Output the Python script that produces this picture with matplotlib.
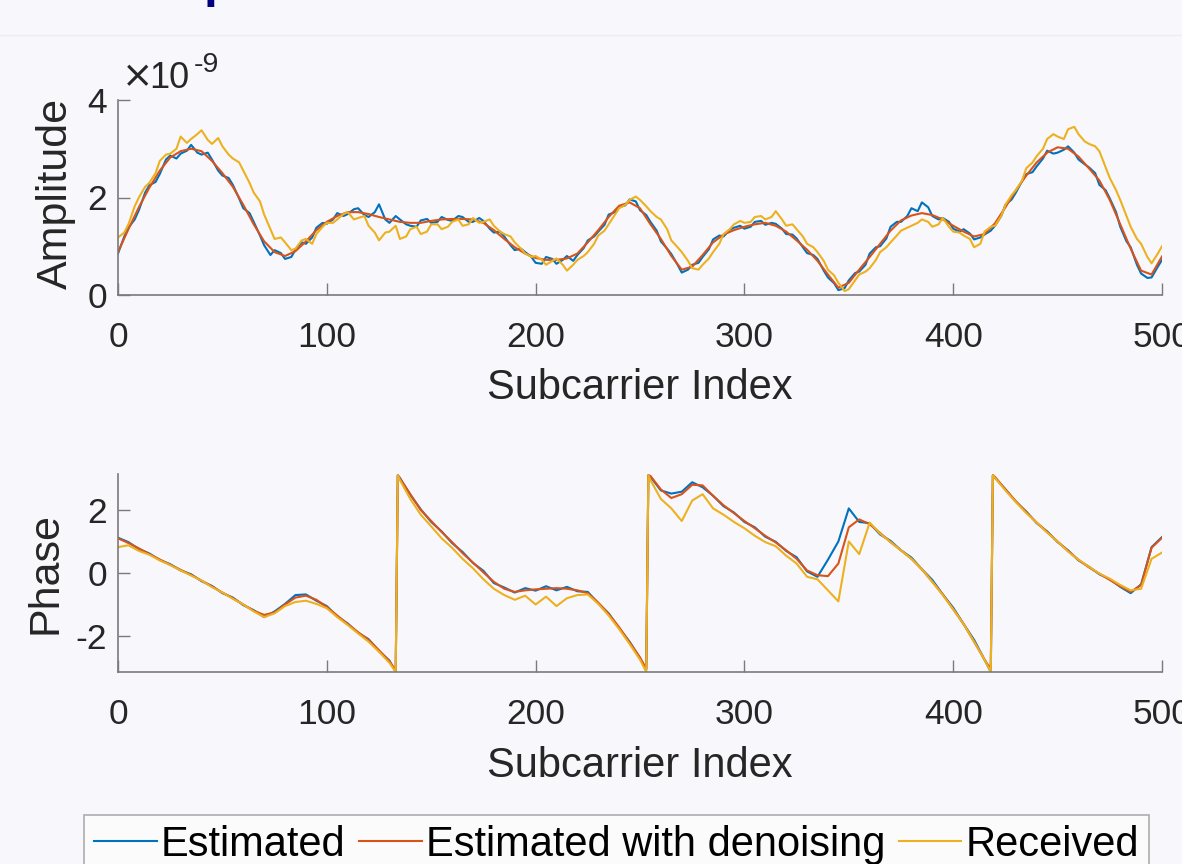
import matplotlib
matplotlib.use("Agg")
import matplotlib.pyplot as plt
from matplotlib.lines import Line2D

plt.rcParams['font.family'] = ['Liberation Sans', 'DejaVu Sans']
plt.rcParams['axes.unicode_minus'] = False

# ---------------- data ----------------
amp_x = list(range(0, 501, 5))
amp_x_mid = list(range(3, 500, 5))
# amplitude values in units of 1e-9
amp_estimated = [
    0.85, 1.38, 1.74, 2.25, 2.48, 2.86, 2.90, 3.08, 2.88, 2.78,
    2.45, 2.26, 1.78, 1.50, 1.02, 0.92, 0.74, 0.93, 1.05, 1.38,
    1.46, 1.68, 1.66, 1.78, 1.60, 1.86, 1.48, 1.55, 1.42, 1.53,
    1.48, 1.60, 1.52, 1.60, 1.50, 1.52, 1.28, 1.20, 0.92, 0.88,
    0.66, 0.78, 0.64, 0.80, 0.82, 1.12, 1.30, 1.65, 1.80, 1.96,
    1.74, 1.50, 1.10, 0.84, 0.46, 0.62, 0.78, 1.14, 1.20, 1.38,
    1.36, 1.50, 1.44, 1.46, 1.25, 1.16, 0.86, 0.74, 0.36, 0.10,
    0.30, 0.48, 0.85, 1.00, 1.40, 1.50, 1.78, 1.90, 1.62, 1.58,
    1.36, 1.35, 1.14, 1.24, 1.42, 1.85, 2.10, 2.48, 2.64, 2.96,
    2.92, 3.05, 2.78, 2.62, 2.26, 1.98, 1.40, 0.98, 0.44, 0.36,
    0.72]
amp_estimated_mid = [
    1.20, 1.55, 2.10, 2.32, 2.78, 2.80, 2.96, 2.92, 2.92, 2.55,
    2.40, 1.98, 1.68, 1.22, 0.82, 0.86, 0.78, 1.08, 1.18, 1.48,
    1.55, 1.62, 1.76, 1.64, 1.70, 1.55, 1.62, 1.45, 1.40, 1.56,
    1.50, 1.54, 1.62, 1.50, 1.58, 1.36, 1.30, 1.02, 0.95, 0.78,
    0.64, 0.74, 0.72, 0.70, 0.96, 1.20, 1.44, 1.70, 1.84, 1.92,
    1.64, 1.32, 0.95, 0.62, 0.52, 0.66, 0.94, 1.22, 1.34, 1.42,
    1.40, 1.52, 1.48, 1.36, 1.24, 0.98, 0.82, 0.50, 0.24, 0.14,
    0.45, 0.62, 0.98, 1.16, 1.50, 1.62, 1.72, 1.80, 1.55, 1.50,
    1.30, 1.26, 1.18, 1.32, 1.62, 1.96, 2.34, 2.52, 2.80, 2.90,
    2.98, 2.92, 2.68, 2.50, 2.15, 1.70, 1.10, 0.62, 0.35, 0.58]
amp_denoised = [
    0.88, 1.35, 1.80, 2.20, 2.55, 2.82, 2.95, 3.00, 2.95, 2.75,
    2.50, 2.22, 1.85, 1.45, 1.10, 0.88, 0.80, 0.90, 1.10, 1.33,
    1.50, 1.62, 1.70, 1.70, 1.66, 1.60, 1.55, 1.50, 1.48, 1.48,
    1.52, 1.55, 1.56, 1.56, 1.55, 1.48, 1.33, 1.15, 0.98, 0.85,
    0.76, 0.72, 0.72, 0.75, 0.85, 1.08, 1.33, 1.60, 1.83, 1.90,
    1.78, 1.45, 1.15, 0.80, 0.52, 0.58, 0.82, 1.08, 1.24, 1.33,
    1.40, 1.45, 1.48, 1.42, 1.30, 1.12, 0.93, 0.70, 0.42, 0.15,
    0.25, 0.52, 0.78, 1.05, 1.32, 1.53, 1.63, 1.68, 1.64, 1.55,
    1.42, 1.30, 1.20, 1.25, 1.47, 1.80, 2.15, 2.45, 2.72, 2.92,
    3.03, 3.00, 2.84, 2.60, 2.35, 1.95, 1.45, 0.95, 0.50, 0.42,
    0.79]
amp_received = [
    1.18, 1.45, 2.00, 2.30, 2.75, 2.90, 3.25, 3.20, 3.38, 3.10,
    3.05, 2.80, 2.55, 2.10, 1.65, 1.15, 1.08, 0.95, 1.15, 1.25,
    1.48, 1.55, 1.70, 1.58, 1.42, 1.12, 1.30, 1.15, 1.35, 1.25,
    1.45, 1.35, 1.50, 1.42, 1.58, 1.50, 1.42, 1.25, 1.08, 0.85,
    0.80, 0.62, 0.75, 0.50, 0.72, 0.88, 1.22, 1.45, 1.78, 1.95,
    1.95, 1.72, 1.55, 1.12, 0.88, 0.55, 0.62, 0.88, 1.25, 1.45,
    1.48, 1.60, 1.55, 1.72, 1.42, 1.35, 1.05, 0.88, 0.52, 0.25,
    0.12, 0.42, 0.55, 0.88, 1.08, 1.32, 1.42, 1.55, 1.40, 1.58,
    1.30, 1.22, 0.98, 1.30, 1.42, 1.85, 2.15, 2.60, 2.85, 3.20,
    3.25, 3.40, 3.30, 3.10, 2.95, 2.40, 1.95, 1.40, 1.05, 0.65,
    1.00]
amp_received_mid = [
    1.28, 1.82, 2.22, 2.50, 2.88, 3.00, 3.12, 3.30, 3.18, 3.22,
    2.88, 2.72, 2.30, 1.92, 1.35, 1.18, 0.92, 1.12, 1.05, 1.40,
    1.48, 1.66, 1.55, 1.62, 1.28, 1.28, 1.42, 1.20, 1.40, 1.30,
    1.45, 1.40, 1.55, 1.45, 1.48, 1.55, 1.30, 1.20, 0.95, 0.78,
    0.72, 0.70, 0.62, 0.62, 0.80, 1.05, 1.32, 1.65, 1.85, 2.02,
    1.82, 1.60, 1.35, 0.98, 0.70, 0.52, 0.75, 1.05, 1.35, 1.52,
    1.50, 1.62, 1.60, 1.55, 1.45, 1.20, 0.98, 0.70, 0.40, 0.08,
    0.30, 0.48, 0.72, 0.98, 1.22, 1.38, 1.48, 1.50, 1.45, 1.40,
    1.28, 1.15, 1.05, 1.40, 1.62, 2.05, 2.35, 2.72, 3.00, 3.30,
    3.20, 3.45, 3.15, 3.05, 2.62, 2.15, 1.62, 1.15, 0.78, 0.85]

phase_x = (list(range(0, 131, 5)) + [133, 134] + list(range(135, 251, 5)) + [253, 254]
           + list(range(255, 416, 5)) + [418, 419] + list(range(420, 501, 5)))
phase_estimated = [
    1.12, 0.98, 0.76, 0.62, 0.41, 0.28, 0.08, -0.04, -0.26, -0.41, -0.64, -0.78, -1.02, -1.18,
    -1.40, -1.22, -0.98, -0.70, -0.68, -0.88, -1.05, -1.38, -1.60, -1.90, -2.10, -2.48, -2.78,
    -3.14, 3.10,
    3.02, 2.48, 2.02, 1.62, 1.32, 0.95, 0.67, 0.32, 0.07, -0.32, -0.46, -0.62, -0.48, -0.56,
    -0.42, -0.55, -0.44, -0.58, -0.60, -0.96, -1.28, -1.75, -2.18, -2.70,
    -3.05, 3.10,
    3.05, 2.62, 2.52, 2.58, 2.88, 2.72, 2.45, 2.12, 1.92, 1.62, 1.45, 1.15, 0.99, 0.70, 0.50,
    0.05, -0.12, 0.42, 1.00, 2.05, 1.62, 1.58, 1.22, 1.02, 0.72, 0.49, 0.12, -0.22, -0.68,
    -1.10, -1.62, -2.12, -2.75,
    -3.14, 3.10,
    3.02, 2.66, 2.26, 1.95, 1.58, 1.32, 0.98, 0.72, 0.40, 0.20, -0.04, -0.20, -0.44, -0.64,
    -0.36, 0.82, 1.14]
phase_denoised = [
    1.10, 0.95, 0.78, 0.60, 0.43, 0.26, 0.10, -0.06, -0.24, -0.43, -0.62, -0.80, -1.00, -1.20,
    -1.33, -1.25, -1.00, -0.78, -0.72, -0.85, -1.08, -1.35, -1.62, -1.88, -2.12, -2.45, -2.80,
    -3.10, 3.10,
    3.00, 2.50, 2.00, 1.65, 1.30, 0.98, 0.63, 0.33, 0.02, -0.28, -0.50, -0.60, -0.55, -0.52,
    -0.50, -0.48, -0.50, -0.55, -0.64, -0.94, -1.30, -1.72, -2.20, -2.68,
    -3.05, 3.10,
    3.08, 2.65, 2.38, 2.50, 2.80, 2.78, 2.45, 2.15, 1.90, 1.65, 1.42, 1.18, 0.97, 0.72, 0.45,
    0.08, -0.07, -0.10, 0.30, 1.45, 1.70, 1.55, 1.27, 0.98, 0.72, 0.45, 0.12, -0.28, -0.68,
    -1.15, -1.62, -2.18, -2.75,
    -3.05, 3.10,
    3.05, 2.65, 2.28, 1.93, 1.60, 1.30, 1.00, 0.70, 0.42, 0.18, -0.02, -0.22, -0.42, -0.60,
    -0.38, 0.80, 1.12]
phase_received = [
    0.82, 0.88, 0.70, 0.58, 0.40, 0.25, 0.08, -0.08, -0.24, -0.45, -0.62, -0.82, -1.00, -1.22,
    -1.40, -1.28, -1.05, -0.92, -0.88, -0.98, -1.12, -1.40, -1.65, -1.92, -2.18, -2.50, -2.85,
    -3.14, 3.10,
    2.95, 2.35, 1.85, 1.48, 1.10, 0.80, 0.45, 0.15, -0.20, -0.50, -0.70, -0.85, -0.72, -1.00,
    -0.75, -1.05, -0.80, -0.70, -0.68, -0.98, -1.35, -1.78, -2.25, -2.75,
    -3.14, 3.10,
    2.95, 2.35, 2.05, 1.65, 2.30, 2.50, 2.05, 1.85, 1.62, 1.42, 1.18, 0.98, 0.85, 0.55, 0.30,
    -0.12, -0.20, -0.55, -0.90, 1.00, 0.60, 1.60, 1.25, 0.98, 0.72, 0.45, 0.12, -0.28, -0.70,
    -1.15, -1.62, -2.18, -2.75,
    -3.14, 3.10,
    3.02, 2.62, 2.25, 1.90, 1.60, 1.28, 1.00, 0.68, 0.42, 0.20, -0.02, -0.18, -0.38, -0.55,
    -0.50, 0.45, 0.65]

series_labels = ["Estimated", "Estimated with denoising", "Received"]
series_colors = ["#0072BD", "#D95319", "#EDB120"]
x_ticks = [0, 100, 200, 300, 400, 500]
amp_ticks = [0, 2, 4]
phase_ticks = [-2, 0, 2]


def merged(xa, ya, xb=None, yb=None):
    if xb is None:
        return xa, ya
    pts = sorted(zip(list(xa) + list(xb), list(ya) + list(yb)))
    return [p[0] for p in pts], [p[1] for p in pts]


# ---------------- figure ----------------
BG = "#f8f8fc"
TXT = "#262626"
AXC = "#7a7a7a"
W, H = 1182, 864
fig = plt.figure(figsize=(W / 100, H / 100), dpi=100)
fig.patch.set_facecolor(BG)


def rect(l, t, r, b):
    return [l / W, 1 - b / H, (r - l) / W, (b - t) / H]


# slide title remnant and separator at the very top
fig.text(204 / W, 1 + 3.5 / H, "p", fontsize=36, fontweight="bold", color="#000080",
         ha="left", va="baseline")
fig.add_artist(Line2D([0, 1], [1 - 35 / H, 1 - 35 / H], transform=fig.transFigure,
                      color="#ececf2", lw=1))

ax1 = fig.add_axes(rect(118, 100, 1162, 295))
ax2 = fig.add_axes(rect(118, 474, 1162, 672))

amp_series = [merged(amp_x, amp_estimated, amp_x_mid, amp_estimated_mid),
              merged(amp_x, amp_denoised),
              merged(amp_x, amp_received, amp_x_mid, amp_received_mid)]
phase_data = [phase_estimated, phase_denoised, phase_received]
for (xs, ys), c, lab in zip(amp_series, series_colors, series_labels):
    ax1.plot(xs, ys, color=c, lw=1.5, label=lab)
for ys, c, lab in zip(phase_data, series_colors, series_labels):
    ax2.plot(phase_x, ys, color=c, lw=1.5, label=lab)

for ax in (ax1, ax2):
    ax.set_facecolor(BG)
    ax.spines[["top", "right"]].set_visible(False)
    for s in ("left", "bottom"):
        ax.spines[s].set_color(AXC)
        ax.spines[s].set_linewidth(1.2)
    ax.tick_params(direction="in", length=8.5, width=1.0, color=AXC,
                   labelsize=25.5, labelcolor=TXT)
    ax.tick_params(axis="x", pad=18.5)
    ax.tick_params(axis="y", pad=8)
    ax.set_xlim(0, 500)
    ax.set_xticks(x_ticks)

ax1.set_ylim(0, 4)
ax1.set_yticks(amp_ticks)
ax2.set_ylim(-3.14159, 3.14159)
ax2.set_yticks(phase_ticks)

# axis labels
fig.text(67 / W, 1 - 193 / H, "Amplitude", rotation=90, rotation_mode="anchor",
         ha="center", va="baseline", fontsize=31, color=TXT)
fig.text(56 / W, 1 - 573 / H, "Phase", rotation=90, rotation_mode="anchor",
         ha="center", va="baseline", fontsize=31, color=TXT)
fig.text(640 / W, 1 - 399 / H, "Subcarrier Index", ha="center", va="baseline",
         fontsize=30, color=TXT)
fig.text(640 / W, 1 - 777 / H, "Subcarrier Index", ha="center", va="baseline",
         fontsize=30, color=TXT)

# exponent label
fig.text(121 / W, 1 - 86 / H, r"$\times$", ha="left", va="baseline", fontsize=27,
         color=TXT)
fig.text(149 / W, 1 - 88 / H, "10", ha="left", va="baseline", fontsize=26, color=TXT)
fig.text(194 / W, 1 - 72 / H, "-9", ha="left", va="baseline", fontsize=20.5, color=TXT)

# legend
handles = [Line2D([], [], color=c, lw=1.5) for c in series_colors]
leg = fig.legend(handles, series_labels, loc="upper left",
                 bbox_to_anchor=(84 / W, 1 - 815 / H), ncol=3, fontsize=30,
                 frameon=True, fancybox=False, borderpad=0.24, handlelength=1.5,
                 handletextpad=0.1, columnspacing=0.33, borderaxespad=0)
leg.get_frame().set_edgecolor("#9a9a9a")
leg.get_frame().set_facecolor("#fcfcfd")
leg.get_frame().set_linewidth(1.2)
for t in leg.get_texts():
    t.set_color("#000000")

fig.savefig("out.png", dpi=100, facecolor=BG)
